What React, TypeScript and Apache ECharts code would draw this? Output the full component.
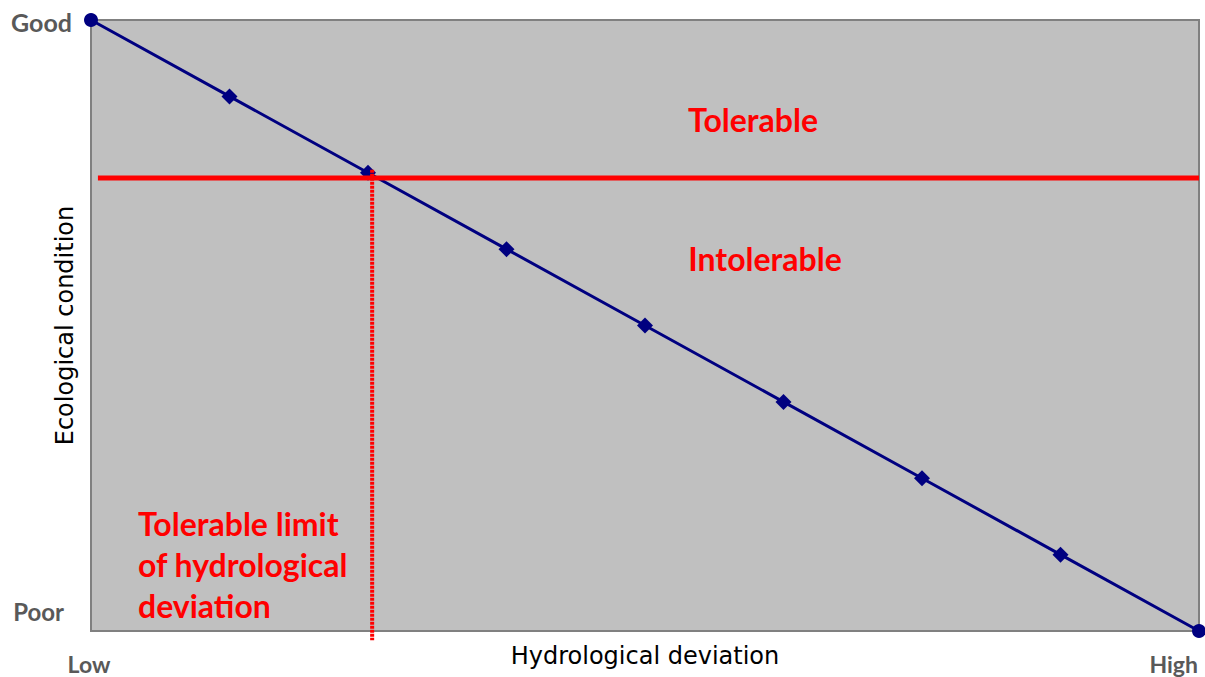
import React, { useEffect, useRef } from "react";
import * as echarts from "echarts";

const deviation = [0, 1, 2, 3, 4, 5, 6, 7, 8];
const condition = [8, 7, 6, 5, 4, 3, 2, 1, 0];
const markerShapes = ["circle", "diamond", "diamond", "diamond", "diamond", "diamond", "diamond", "diamond", "circle"];
const thresholdCondition = 5.93;
const thresholdLineX = [0.05, 8];
const limitDeviation = 2.03;
const limitLineY = [6.04, -0.12];
const xAxisName = "Hydrological deviation";
const yAxisName = "Ecological condition";
const yEndLabels = ["Good", "Poor"];
const xEndLabels = ["Low", "High"];
const zoneLabels = ["Tolerable", "Intolerable"];
const limitLabel = "Tolerable limit\nof hydrological\ndeviation";

export default function App() {
  const ref = useRef<HTMLDivElement>(null);
  useEffect(() => {
    if (!ref.current) return;
    const chart = echarts.init(ref.current, null, { renderer: "svg" });
    const labelFont = "Lato, 'Open Sans', sans-serif";
    const mainLine = deviation.map((x, i) => ({
      value: [x, condition[i]],
      symbol: markerShapes[i],
      symbolSize: markerShapes[i] === "circle" ? 14 : 16,
    }));
    chart.setOption({
      animation: false,
      grid: {
        left: 91,
        right: 6,
        top: 20,
        bottom: 46,
        show: true,
        backgroundColor: "#c0c0c0",
        borderColor: "#808080",
        borderWidth: 2,
      },
      xAxis: {
        type: "value",
        min: 0,
        max: 8,
        axisLine: { show: false },
        axisTick: { show: false },
        axisLabel: { show: false },
        splitLine: { show: false },
        name: xAxisName,
        nameLocation: "middle",
        nameGap: 13,
        nameTextStyle: {
          fontFamily: "'DejaVu Sans', sans-serif",
          fontSize: 24,
          color: "#000",
        },
      },
      yAxis: {
        type: "value",
        min: 0,
        max: 8,
        axisLine: { show: false },
        axisTick: { show: false },
        axisLabel: { show: false },
        splitLine: { show: false },
        name: yAxisName,
        nameLocation: "middle",
        nameGap: 14,
        nameTextStyle: {
          fontFamily: "'DejaVu Sans', sans-serif",
          fontSize: 24,
          color: "#000",
        },
      },
      series: [
        {
          type: "line",
          data: mainLine,
          lineStyle: { color: "#000080", width: 3 },
          itemStyle: { color: "#000080" },
          clip: false,
          z: 2,
        },
        {
          type: "line",
          data: thresholdLineX.map((x) => [x, thresholdCondition]),
          symbol: "none",
          lineStyle: { color: "#ff0000", width: 5 },
          clip: false,
          z: 3,
        },
        {
          type: "line",
          data: limitLineY.map((y) => [limitDeviation, y]),
          symbol: "none",
          lineStyle: { color: "#ff0000", width: 4, type: [3, 1] },
          clip: false,
          z: 3,
        },
      ],
      graphic: [
        {
          type: "text",
          x: 72,
          y: 22,
          style: { text: yEndLabels[0], fill: "#595959", font: `bold 25px ${labelFont}`, align: "right", verticalAlign: "middle" },
        },
        {
          type: "text",
          x: 64,
          y: 611,
          style: { text: yEndLabels[1], fill: "#595959", font: `bold 24px ${labelFont}`, align: "right", verticalAlign: "middle" },
        },
        {
          type: "text",
          x: 89,
          y: 664,
          style: { text: xEndLabels[0], fill: "#595959", font: `bold 23px ${labelFont}`, align: "center", verticalAlign: "middle" },
        },
        {
          type: "text",
          x: 1198,
          y: 664,
          style: { text: xEndLabels[1], fill: "#595959", font: `bold 23px ${labelFont}`, align: "right", verticalAlign: "middle" },
        },
        {
          type: "text",
          x: 753,
          y: 119,
          z: 10,
          style: { text: zoneLabels[0], fill: "#ff0000", font: `bold 32px ${labelFont}`, align: "center", verticalAlign: "middle" },
        },
        {
          type: "text",
          x: 765,
          y: 258,
          z: 10,
          style: { text: zoneLabels[1], fill: "#ff0000", font: `bold 32px ${labelFont}`, align: "center", verticalAlign: "middle" },
        },
        {
          type: "text",
          x: 138,
          y: 503,
          z: 10,
          style: { text: limitLabel, fill: "#ff0000", font: `bold 32px ${labelFont}`, lineHeight: 41, align: "left", verticalAlign: "top" },
        },
      ],
    });
    return () => chart.dispose();
  }, []);
  return <div ref={ref} style={{ position: "fixed", left: 0, top: 0, width: 1205, height: 677, background: "#fff" }} />;
}
